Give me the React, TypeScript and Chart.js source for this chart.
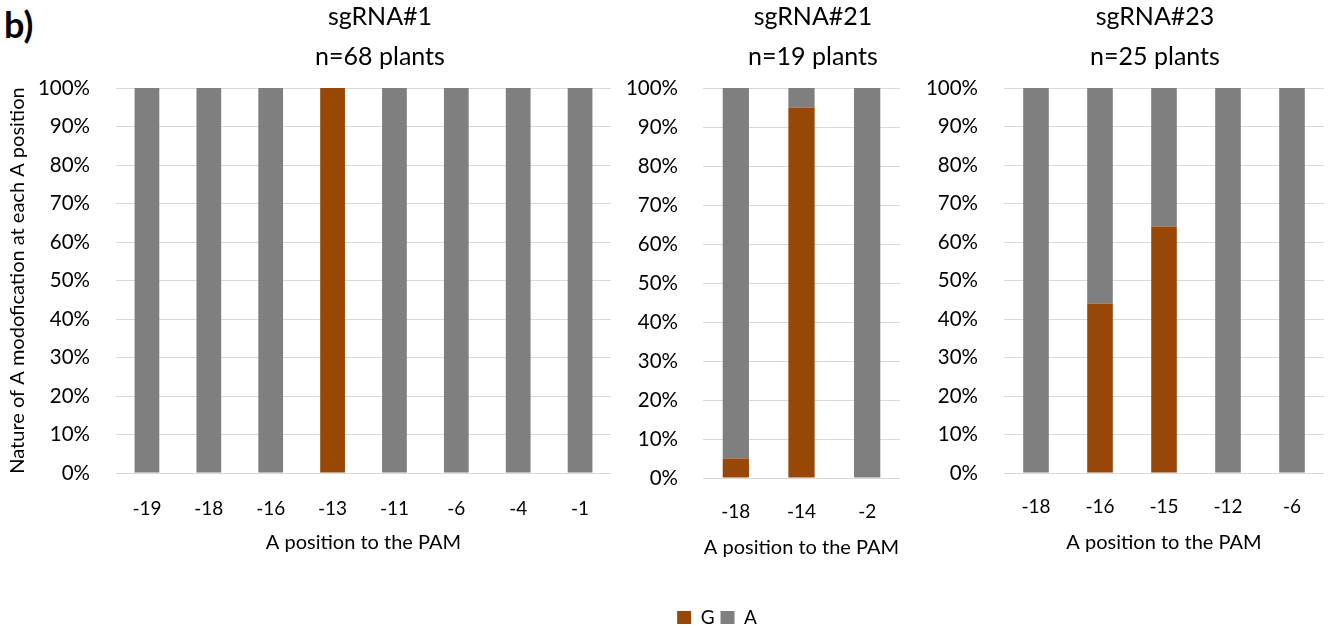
import React, { useEffect, useRef } from 'react';
import { Chart, registerables } from 'chart.js';

Chart.register(...registerables);

// ---- data ----
const seriesNames = ['G', 'A'];
const seriesColors = ['#974706', '#7f7f7f'];

const panel1Labels = ['-19', '-18', '-16', '-13', '-11', '-6', '-4', '-1'];
const panel1G = [0, 0, 0, 100, 0, 0, 0, 0];
const panel1A = [100, 100, 100, 0, 100, 100, 100, 100];
const panel1Title = ['sgRNA#1', 'n=68 plants'];

const panel2Labels = ['-18', '-14', '-2'];
const panel2G = [5, 95, 0];
const panel2A = [95, 5, 100];
const panel2Title = ['sgRNA#21', 'n=19 plants'];

const panel3Labels = ['-18', '-16', '-15', '-12', '-6'];
const panel3G = [0, 44, 64, 0, 0];
const panel3A = [100, 56, 36, 100, 100];
const panel3Title = ['sgRNA#23', 'n=25 plants'];

const xAxisTitle = 'A position to the PAM';
const yAxisTitle = 'Nature of A modofication at each A position';
const panelLabel = 'b)';

const FONT = 'Lato';
Chart.defaults.font.family = FONT;
Chart.defaults.color = '#000';

const titleShift = {
  id: 'titleShift',
  afterLayout(chart: any, _args: any, opts: any) {
    const t = chart.titleBlock;
    if (t && opts && opts.dx) {
      t.left += opts.dx;
      t.right += opts.dx;
    }
  },
};

type PanelProps = {
  labels: string[];
  g: number[];
  a: number[];
  title: string[];
  left: number;
  width: number;
  yw: number;
  xh: number;
  tickPad: number;
  xTickPad: number;
  xTitlePad: number;
  titleCenter: number;
  showYTitle: boolean;
};

const TOP = -3;
const H = 570;

function Panel(p: PanelProps) {
  const ref = useRef<HTMLCanvasElement | null>(null);
  useEffect(() => {
    if (!ref.current) return;
    const dx = p.titleCenter - p.left - p.width / 2;
    const chart = new Chart(ref.current, {
      type: 'bar',
      data: {
        labels: p.labels,
        datasets: [
          { label: seriesNames[0], data: p.g, backgroundColor: seriesColors[0], barPercentage: 0.4, categoryPercentage: 1 },
          { label: seriesNames[1], data: p.a, backgroundColor: seriesColors[1], barPercentage: 0.4, categoryPercentage: 1 },
        ],
      },
      options: {
        animation: false,
        responsive: false,
        devicePixelRatio: 1,
        layout: { padding: 0 },
        plugins: {
          legend: { display: false },
          tooltip: { enabled: false },
          title: {
            display: true,
            text: p.title,
            font: { family: FONT, size: 25, weight: 'normal', lineHeight: 40 / 25 },
            color: '#000',
            padding: { top: 0, bottom: 11 },
          },
          titleShift: { dx },
        } as any,
        scales: {
          x: {
            stacked: true,
            grid: { display: false },
            border: { display: false },
            ticks: { font: { size: 19 }, padding: p.xTickPad, color: '#000' },
            title: {
              display: true,
              text: xAxisTitle,
              font: { size: 20 },
              color: '#000',
              padding: { top: 0, bottom: p.xTitlePad },
            },
            afterFit: (s: any) => { s.height = p.xh; },
          },
          y: {
            stacked: true,
            min: 0,
            max: 100,
            grid: { color: '#d9d9d9', lineWidth: 1, drawTicks: false },
            border: { display: false },
            ticks: {
              stepSize: 10,
              font: { size: 20.5 },
              padding: p.tickPad,
              color: '#000',
              callback: (v: any) => v + '%',
            },
            title: {
              display: p.showYTitle,
              text: yAxisTitle,
              font: { size: 20 },
              color: '#000',
              padding: { top: 6, bottom: 0 },
            },
            afterFit: (s: any) => { s.width = p.yw; },
          },
        },
      },
      plugins: [titleShift as any],
    });
    return () => chart.destroy();
  }, []);
  return (
    <canvas
      ref={ref}
      width={p.width}
      height={H}
      style={{ position: 'absolute', left: p.left, top: TOP, width: p.width, height: H }}
    />
  );
}

function Legend() {
  const ref = useRef<HTMLCanvasElement | null>(null);
  useEffect(() => {
    if (!ref.current) return;
    const chart = new Chart(ref.current, {
      type: 'bar',
      data: {
        labels: [],
        datasets: seriesNames.map((n, i) => ({ label: n, data: [], backgroundColor: seriesColors[i] })),
      },
      options: {
        animation: false,
        responsive: false,
        devicePixelRatio: 1,
        layout: { padding: 0 },
        scales: { x: { display: false }, y: { display: false } },
        plugins: {
          tooltip: { enabled: false },
          legend: {
            display: true,
            position: 'top',
            labels: {
              boxWidth: 14,
              boxHeight: 13,
              padding: 6,
              font: { size: 19 },
              color: '#000',
            },
          },
        },
      },
    });
    return () => chart.destroy();
  }, []);
  return (
    <canvas
      ref={ref}
      width={200}
      height={80}
      style={{ position: 'absolute', left: 617, top: 602, width: 200, height: 80 }}
    />
  );
}

export default function App() {
  return (
    <div style={{ position: 'absolute', left: 0, top: 0, width: 1329, height: 628, background: '#fff', overflow: 'hidden' }}>
      <div
        style={{
          position: 'absolute',
          left: 4,
          top: 4,
          fontFamily: FONT,
          fontWeight: 'bold',
          fontSize: 36,
          lineHeight: '40px',
          color: '#000',
        }}
      >
        {panelLabel}
      </div>
      <Panel
        labels={panel1Labels}
        g={panel1G}
        a={panel1A}
        title={panel1Title}
        left={0}
        width={611}
        yw={116}
        xh={H + TOP - 473}
        tickPad={26}
        xTickPad={16}
        xTitlePad={12}
        titleCenter={380}
        showYTitle={true}
      />
      <Panel
        labels={panel2Labels}
        g={panel2G}
        a={panel2A}
        title={panel2Title}
        left={620}
        width={280}
        yw={83}
        xh={H + TOP - 478}
        tickPad={25}
        xTickPad={14}
        xTitlePad={7}
        titleCenter={813}
        showYTitle={false}
      />
      <Panel
        labels={panel3Labels}
        g={panel3G}
        a={panel3A}
        title={panel3Title}
        left={910}
        width={414}
        yw={94}
        xh={H + TOP - 473}
        tickPad={26}
        xTickPad={14}
        xTitlePad={12}
        titleCenter={1155}
        showYTitle={false}
      />
      <Legend />
    </div>
  );
}
